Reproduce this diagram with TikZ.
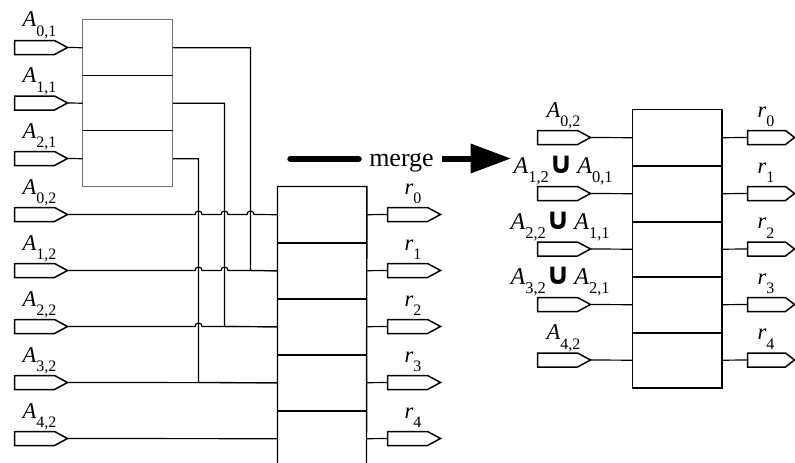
\documentclass[tikz,border=0pt]{standalone}
\usepackage{fontspec}
\setmainfont{Liberation Serif}
\newfontfamily\symfont{DejaVu Sans}
\newcommand\lab[2]{{\fontsize{22.5}{22.5}\selectfont\itshape #1}\raisebox{-9.5pt}{\fontsize{16}{16}\selectfont #2}}
\newcommand\ulab[4]{{\fontsize{24}{24}\selectfont\itshape #1}\raisebox{-9pt}{\fontsize{16.5}{16.5}\selectfont #2}{\fontsize{30}{30}\selectfont\symfont\bfseries\kern0pt ∪\kern4pt}{\fontsize{24}{24}\selectfont\itshape #3}\raisebox{-9pt}{\fontsize{16.5}{16.5}\selectfont #4}}
\tikzset{
  pinline/.style={line width=1.5pt, line join=miter},
  pinL/.pic={\draw[pinline] (0,-7) -- (40,-7) -- (53,0) -- (40,7) -- (0,7) -- cycle;
             \coordinate (-tip) at (53,0); \coordinate (-tail) at (0,0);},
  pinR/.pic={\draw[pinline] (0,-7) -- (38,-7) -- (47,0) -- (38,7) -- (0,7) -- cycle;
             \coordinate (-tip) at (47,0); \coordinate (-tail) at (0,0);},
  wire/.style={line width=1.2pt},
  cellA/.style={minimum width=90pt, minimum height=#1, inner sep=0pt, anchor=north west},
  cellA/.default=56pt,
  cellB/.style={minimum width=89pt, minimum height=56pt, inner sep=0pt, anchor=north west},
  cellC/.style={minimum width=89pt, minimum height=#1, inner sep=0pt, anchor=north west},
  cellC/.default=56pt,
  boxline/.style={line width=1.4pt},
  lbl/.style={inner sep=0pt, anchor=base west},
}
\begin{document}
\begin{tikzpicture}[x=1pt,y=-1pt]
\useasboundingbox (0,0) rectangle (795,463);
\begin{scope}[shift={(0.5,0.5)}]
% ---------- left: first box ----------
\node[cellA] (b0) at (82,19) {};
\node[cellA=55pt] (b1) at (82,75) {};
\node[cellA] (b2) at (82,130) {};
\draw[black!55, line width=0.9pt] (b0.north west) rectangle (b2.south east);
\draw[black, line width=0.9pt] (b0.south west) -- (b0.south east) (b1.south west) -- (b1.south east);
% inputs of first box
\pic (pa01) at (14,47) {pinL};
\pic (pa11) at (14,102.5) {pinL};
\pic (pa21) at (14,158) {pinL};
\draw[wire] (pa01-tip) -- (b0.west);
\draw[wire] (pa11-tip) -- (b1.west);
\draw[wire] (pa21-tip) -- (b2.west);
\node[lbl] (la01) at (22,26.5) {\lab{A}{0,1}};
\node[lbl] (la11) at (22,82) {\lab{A}{1,1}};
\node[lbl] (la21) at (22,137.5) {\lab{A}{2,1}};
% ---------- left: second box ----------
\node[cellB] (c0) at (277,186) {};
\node[cellB] (c1) at (277,242) {};
\node[cellB] (c2) at (277,298) {};
\node[cellB] (c3) at (277,354) {};
\node[cellB] (c4) at (277,410) {};
\coordinate (c4bl) at (277,463);
\coordinate (c4br) at (366,463);
\draw[boxline] (c4bl) -- (c0.north west) -- (c0.north east) -- (c4br);
\draw[boxline] (c0.south west) -- (c0.south east) (c1.south west) -- (c1.south east)
  (c2.south west) -- (c2.south east) (c3.south west) -- (c3.south east);
% inputs of second box
\pic (pa02) at (14,214) {pinL};
\pic (pa12) at (14,270) {pinL};
\pic (pa22) at (14,326) {pinL};
\pic (pa32) at (14,382) {pinL};
\pic (pa42) at (14,438) {pinL};
\node[lbl] (la02) at (22,193.5) {\lab{A}{0,2}};
\node[lbl] (la12) at (22,249.5) {\lab{A}{1,2}};
\node[lbl] (la22) at (22,305.5) {\lab{A}{2,2}};
\node[lbl] (la32) at (22,361.5) {\lab{A}{3,2}};
\node[lbl] (la42) at (22,417.5) {\lab{A}{4,2}};
\draw[wire] (pa02-tip) -- (194.5,214) arc[start angle=180,end angle=360,radius=3.5]
  -- (220.5,214) arc[start angle=180,end angle=360,radius=3.5]
  -- (246.5,214) arc[start angle=180,end angle=360,radius=3.5] -- (c0.west);
\draw[wire] (pa12-tip) -- (194.5,270) arc[start angle=180,end angle=360,radius=3.5]
  -- (220.5,270) arc[start angle=180,end angle=360,radius=3.5] -- (c1.west);
\draw[wire] (pa22-tip) -- (194.5,326) arc[start angle=180,end angle=360,radius=3.5] -- (c2.west);
\draw[wire] (pa32-tip) -- (c3.west);
\draw[wire] (pa42-tip) -- (c4.west);
% cross connections
\coordinate (v0) at (250,270);
\coordinate (v1) at (224,326);
\coordinate (v2) at (198,382);
\draw[wire] (b0.east) -| (v0) -- (c1.west);
\draw[wire] (b1.east) -| (v1) -- (c2.west);
\draw[wire] (b2.east) -| (v2) -- (c3.west);
% outputs
\pic (pr0) at (387,214) {pinL};
\pic (pr1) at (387,270) {pinL};
\pic (pr2) at (387,326) {pinL};
\pic (pr3) at (387,382) {pinL};
\pic (pr4) at (387,438) {pinL};
\draw[wire] (c0.east) -- (pr0-tail);
\draw[wire] (c1.east) -- (pr1-tail);
\draw[wire] (c2.east) -- (pr2-tail);
\draw[wire] (c3.east) -- (pr3-tail);
\draw[wire] (c4.east) -- (pr4-tail);
\node[lbl] (lr0) at (404,193.5) {\lab{r}{0}};
\node[lbl] (lr1) at (404,249.5) {\lab{r}{1}};
\node[lbl] (lr2) at (404,305.5) {\lab{r}{2}};
\node[lbl] (lr3) at (404,361.5) {\lab{r}{3}};
\node[lbl] (lr4) at (404,417.5) {\lab{r}{4}};
% ---------- merge arrow ----------
\node[inner sep=0pt, anchor=base, font=\fontsize{26}{26}\selectfont] (mg) at (401,166) {merge};
\coordinate (m0) at (290,158.5);
\coordinate (m1) at (358,158.5);
\coordinate (m2) at (441,158.5);
\coordinate (m3) at (472,158.5);
\coordinate (mh1) at (470,143);
\coordinate (mh2) at (510,158);
\coordinate (mh3) at (470,173);
\draw[line width=6.5pt, line cap=round] (m0) -- (m1);
\draw[line width=6.5pt] (m2) -- (m3);
\fill (mh1) -- (mh2) -- (mh3) -- cycle;
% ---------- right: merged box ----------
\node[cellC] (d0) at (632,109) {};
\node[cellC] (d1) at (632,165) {};
\node[cellC=55pt] (d2) at (632,221) {};
\node[cellC] (d3) at (632,276) {};
\node[cellC=55pt] (d4) at (632,332) {};
\draw[line width=1.3pt] (d0.north west) rectangle (d4.south east);
\draw[line width=1.3pt] (d0.south west) -- (d0.south east) (d1.south west) -- (d1.south east)
  (d2.south west) -- (d2.south east) (d3.south west) -- (d3.south east);
\pic (qa0) at (537,137) {pinL};
\pic (qa1) at (537,193) {pinL};
\pic (qa2) at (537,248.5) {pinL};
\pic (qa3) at (537,304) {pinL};
\pic (qa4) at (537,359.5) {pinL};
\draw[wire] (qa0-tip) -- (d0.west);
\draw[wire] (qa1-tip) -- (d1.west);
\draw[wire] (qa2-tip) -- (d2.west);
\draw[wire] (qa3-tip) -- (d3.west);
\draw[wire] (qa4-tip) -- (d4.west);
\node[lbl] (ma0) at (546,116.5) {\lab{A}{0,2}};
\node[lbl] (ma1) at (513,173) {\ulab{A}{1,2}{A}{0,1}};
\node[lbl] (ma2) at (510,228.5) {\ulab{A}{2,2}{A}{1,1}};
\node[lbl] (ma3) at (510,284) {\ulab{A}{3,2}{A}{2,1}};
\node[lbl] (ma4) at (546,339) {\lab{A}{4,2}};
\pic (qr0) at (747,137) {pinR};
\pic (qr1) at (747,193) {pinR};
\pic (qr2) at (747,248.5) {pinR};
\pic (qr3) at (747,304) {pinR};
\pic (qr4) at (747,359.5) {pinR};
\draw[wire] (d0.east) -- (qr0-tail);
\draw[wire] (d1.east) -- (qr1-tail);
\draw[wire] (d2.east) -- (qr2-tail);
\draw[wire] (d3.east) -- (qr3-tail);
\draw[wire] (d4.east) -- (qr4-tail);
\node[lbl] (mr0) at (757,116.5) {\lab{r}{0}};
\node[lbl] (mr1) at (757,172.5) {\lab{r}{1}};
\node[lbl] (mr2) at (757,228) {\lab{r}{2}};
\node[lbl] (mr3) at (757,283.5) {\lab{r}{3}};
\node[lbl] (mr4) at (757,339) {\lab{r}{4}};
\end{scope}
\end{tikzpicture}
\end{document}
